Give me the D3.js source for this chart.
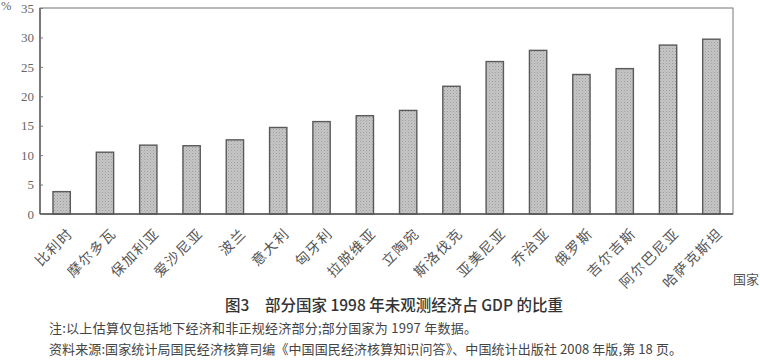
<!DOCTYPE html>
<html><head><meta charset="utf-8">
<script src="https://cdn.jsdelivr.net/npm/d3@7"></script>
<style>
html,body{margin:0;padding:0;background:#fff;}
svg{display:block;}
</style></head>
<body>
<svg id="chart" width="760" height="360"></svg>
<script>
const categories = ["比利时","摩尔多瓦","保加利亚","爱沙尼亚","波兰","意大利","匈牙利","拉脱维亚","立陶宛","斯洛伐克","亚美尼亚","乔治亚","俄罗斯","吉尔吉斯","阿尔巴尼亚","哈萨克斯坦"];
const values = [3.8, 10.5, 11.7, 11.6, 12.6, 14.7, 15.7, 16.7, 17.6, 21.7, 25.9, 27.8, 23.7, 24.7, 28.7, 29.7];
const yTicks = [0, 5, 10, 15, 20, 25, 30, 35];
const yUnit = "%";
const xTitle = "国家";
const title = "图3　部分国家 1998 年未观测经济占 GDP 的比重";
const note = "注:以上估算仅包括地下经济和非正规经济部分;部分国家为 1997 年数据。";
const source = "资料来源:国家统计局国民经济核算司编《中国国民经济核算知识问答》、中国统计出版社 2008 年版,第 18 页。";

const svg = d3.select("#chart");
const L = 40, R = 733, T = 8, B = 214;
const cjk = "'Noto Sans CJK SC', 'Noto Sans', sans-serif";
const serif = "'Liberation Serif', 'DejaVu Serif', serif";

const x = d3.scaleBand().domain(categories).range([L, R]).paddingInner(0.6).paddingOuter(0.3);
const y = d3.scaleLinear().domain([0, 35]).range([B, T]);

// pattern for bar texture
const defs = svg.append("defs");
const pat = defs.append("pattern").attr("id", "tex").attr("width", 3).attr("height", 3).attr("patternUnits", "userSpaceOnUse");
pat.append("rect").attr("width", 3).attr("height", 3).attr("fill", "#c6c6c6");
pat.append("rect").attr("width", 1).attr("height", 1).attr("fill", "#9c9c9c");
pat.append("rect").attr("x", 1.5).attr("y", 1.5).attr("width", 1).attr("height", 1).attr("fill", "#acacac");

// bars
svg.append("g").selectAll("rect").data(values).join("rect")
  .attr("x", (d, i) => x(categories[i]))
  .attr("y", d => y(d))
  .attr("width", x.bandwidth())
  .attr("height", d => y(0) - y(d))
  .attr("fill", "url(#tex)")
  .attr("stroke", "#5a5a5a")
  .attr("stroke-width", 1.4);

// frame
svg.append("rect").attr("x", L).attr("y", T).attr("width", R - L).attr("height", B - T)
  .attr("fill", "none").attr("stroke", "#777").attr("stroke-width", 1);
svg.append("line").attr("x1", L).attr("x2", R).attr("y1", B).attr("y2", B)
  .attr("stroke", "#555").attr("stroke-width", 1.5);
svg.append("line").attr("x1", L).attr("x2", L).attr("y1", T).attr("y2", B)
  .attr("stroke", "#555").attr("stroke-width", 1.3);

// y axis
const yAxis = d3.axisLeft(y).tickValues(yTicks).tickSizeInner(-3).tickSizeOuter(0).tickPadding(6);
const gy = svg.append("g").attr("transform", `translate(${L},0)`).call(yAxis);
gy.select(".domain").remove();
gy.selectAll(".tick line").attr("stroke", "#777");
gy.selectAll(".tick text").attr("fill", "#666").style("font-family", serif).style("font-size", "13px");

svg.append("text").attr("x", 1).attr("y", 10).text(yUnit)
  .attr("fill", "#666").style("font-family", serif).style("font-size", "12.5px");

// x labels
svg.append("g").selectAll("text").data(categories).join("text")
  .attr("transform", d => `translate(${x(d) + x.bandwidth() / 2 + 8},230) rotate(-45)`)
  .attr("text-anchor", "end")
  .attr("dominant-baseline", "central")
  .attr("fill", "#555")
  .style("font-family", cjk).style("font-size", "14px").style("letter-spacing", "1.5px")
  .text(d => d);

svg.append("text").attr("x", 733).attr("y", 284).text(xTitle)
  .attr("fill", "#555").style("font-family", cjk).style("font-size", "13px");

// title and notes
svg.append("text").attr("x", 394).attr("y", 311).attr("text-anchor", "middle").text(title)
  .attr("fill", "#333").style("font-family", cjk).style("font-size", "15.5px").style("font-weight", "500");
svg.append("text").attr("x", 49).attr("y", 333).text(note)
  .attr("textLength", 428).attr("lengthAdjust", "spacing")
  .attr("fill", "#444").style("font-family", cjk).style("font-size", "13px");
svg.append("text").attr("x", 49).attr("y", 354).text(source)
  .attr("textLength", 633).attr("lengthAdjust", "spacing")
  .attr("fill", "#444").style("font-family", cjk).style("font-size", "13px");
</script>
</body></html>
